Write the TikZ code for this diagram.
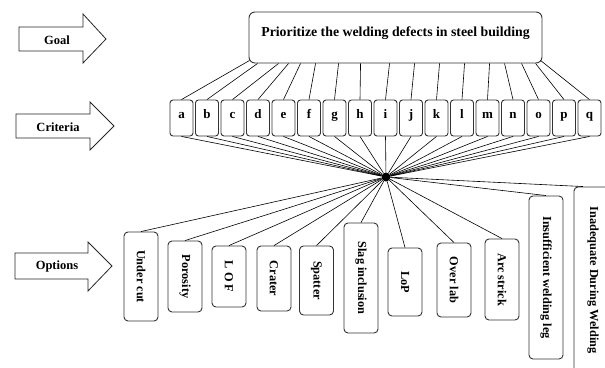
\documentclass[tikz,border=0pt]{standalone}
\usepackage{fontspec}
\setmainfont{Liberation Serif}
\usetikzlibrary{calc}
\begin{document}
\begin{tikzpicture}[x=1pt,y=-1pt,
  box/.style={draw=black!80, line width=0.9pt, rounded corners=4pt, inner sep=0pt, fill=white},
  crit/.style={box, rounded corners=3pt, minimum width=23pt, minimum height=36pt,
    text height=5pt, text depth=5pt, font=\bfseries\fontsize{13}{15}\selectfont},
  opt/.style={box, rotate=-90, minimum height=34pt, font=\bfseries\fontsize{12.3}{14}\selectfont},
  conn/.style={line width=0.6pt, black},
  bigarrow/.style={draw=black!85, line width=0.8pt, fill=white},
  arrowtext/.style={font=\bfseries\fontsize{12.5}{14}\selectfont}]
\clip (0,0) rectangle (605,367);
% side arrows
\draw[bigarrow] (19,27) -- (83,27) -- (83,14) -- (106,39) -- (83,63) -- (83,51) -- (19,51) -- cycle;
\node[arrowtext] (goallab) at (57,40) {Goal};
\draw[bigarrow] (16,114) -- (90,114) -- (90,102) -- (114,126) -- (90,150) -- (90,138) -- (16,138) -- cycle;
\node[arrowtext] (critlab) at (58,127) {Criteria};
\draw[bigarrow] (15,253) -- (88,253) -- (88,242) -- (112,266) -- (88,291) -- (88,279) -- (15,279) -- cycle;
\node[arrowtext] (optlab) at (57,266) {Options};
% goal
\node[box, rounded corners=6pt, minimum width=293pt, minimum height=51pt] (goal) at (395.5,37.5) {};
\node[font=\bfseries\fontsize{13.8}{16}\selectfont] (goaltxt) at (395.5,33) {Prioritize the welding defects in steel building};
% hub
\node[circle, fill=black, inner sep=0pt, minimum size=9pt] (hub) at (386,177) {};
% criteria
\foreach \l [count=\i from 0] in {a,b,c,d,e,f,g,h,i,j,k,l,m,n,o,p,q}
  \node[crit] (\l) at (181.5+25.5*\i,118) {\l};
\foreach \l/\dx/\dy in {a/1/-3,b/9/0,c/30/0,d/40/0,e/52/0,f/67/0,g/90/0,h/112/0,i/141/0,j/166/0,k/191/0,l/216/0,m/241/0,n/256/0,o/273/0,p/287/0,q/292/-3}{
  \draw[conn] ($(goal.south west)+(\dx,\dy)$) -- (\l.north);
  \draw[conn] (\l.south) -- (hub);
}
% options
\node[opt, minimum width=89pt] (uc) at (141,276.5) {Under cut};
\node[opt, minimum width=71pt] (por) at (185,276.5) {Porosity};
\node[opt, minimum width=61pt] (lof) at (229,276.5) {L O F};
\node[opt, minimum width=65pt] (cra) at (274,278.5) {Crater};
\node[opt, minimum width=69pt] (spa) at (316.5,280.5) {Spatter};
\node[opt, minimum width=110pt] (sla) at (361,278) {Slag inclusion};
\node[opt, minimum width=68pt] (lop) at (405,282) {LoP};
\node[opt, minimum width=74pt] (ovl) at (454,280) {Over lab};
\node[opt, minimum width=81pt] (arc) at (502,279.5) {Arc strick};
\node[opt, minimum width=163pt] (ins) at (546,277.5) {Insufficient welding leg};
\node[opt, minimum width=186pt, minimum height=38pt] (ina) at (593,280) {Inadequate During Welding};
\foreach \o in {uc,por,lof,cra,spa,sla,lop,ovl,arc,ins}
  \draw[conn] (hub) -- (\o.west);
\draw[conn] (hub) -- ($(ina.west)+(-10,0)$);
\end{tikzpicture}
\end{document}
